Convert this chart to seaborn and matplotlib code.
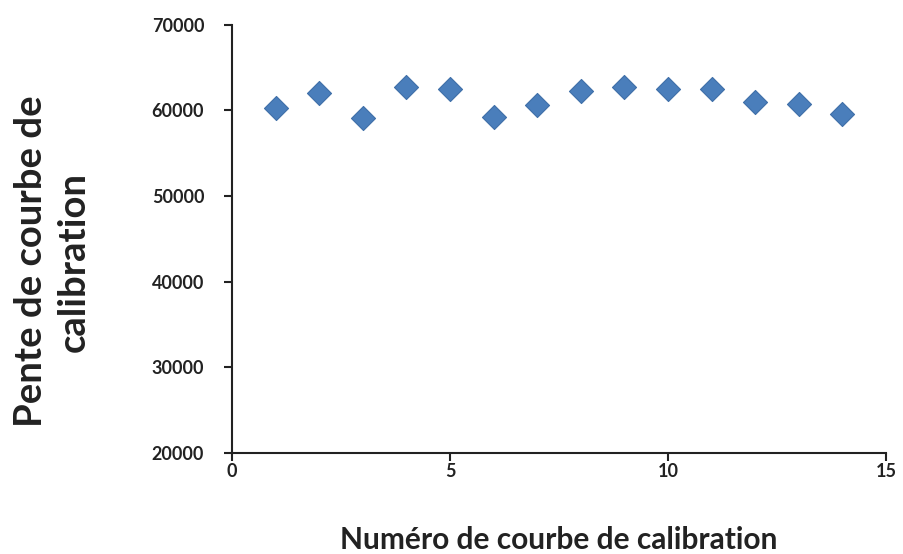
import matplotlib
matplotlib.use("Agg")
import matplotlib.pyplot as plt
import seaborn as sns
import pandas as pd

curve_number = [1, 2, 3, 4, 5, 6, 7, 8, 9, 10, 11, 12, 13, 14]
slope = [60300, 61980, 59140, 62720, 62450, 59250, 60620,
         62250, 62750, 62540, 62450, 60970, 60770, 59530]
x_ticks = [0, 5, 10, 15]
y_ticks = [20000, 30000, 40000, 50000, 60000, 70000]

sns.set_theme(style="ticks")
plt.rcParams['font.family'] = ['Lato', 'DejaVu Sans']

df = pd.DataFrame({"x": curve_number, "y": slope})

fig = plt.figure(figsize=(9.04, 5.54), dpi=100)
ax = fig.add_axes([0.2566, 0.182, 0.7234, 0.7734])
sns.scatterplot(data=df, x="x", y="y", ax=ax, marker="D", s=150,
                color="#4A7EBB", edgecolor="#3F6FA8", linewidth=0.8, zorder=3)

ax.set_xlim(0, 15)
ax.set_ylim(20000, 70000)
ax.set_xticks(x_ticks)
ax.set_yticks(y_ticks)
ax.set_xticklabels([str(t) for t in x_ticks], fontsize=13, fontweight="bold", color="#222222")
ax.set_yticklabels([str(t) for t in y_ticks], fontsize=13, fontweight="bold", color="#222222")
for s in ["top", "right"]:
    ax.spines[s].set_visible(False)
for s in ["left", "bottom"]:
    ax.spines[s].set_linewidth(1.5)
    ax.spines[s].set_color("#222222")
ax.tick_params(axis="both", length=6, width=1.5, color="#222222")
ax.tick_params(axis="y", pad=14)
ax.tick_params(axis="x", pad=1)

ax.set_xlabel("Numéro de courbe de calibration", fontsize=21.5, fontweight="bold",
              color="#222222", labelpad=33)
ax.set_ylabel("Pente de courbe de\ncalibration", fontsize=27.5, fontweight="bold",
              color="#222222", linespacing=1.3)
ax.yaxis.set_label_coords(-0.216, 0.447)

fig.savefig("out.png", dpi=100)
